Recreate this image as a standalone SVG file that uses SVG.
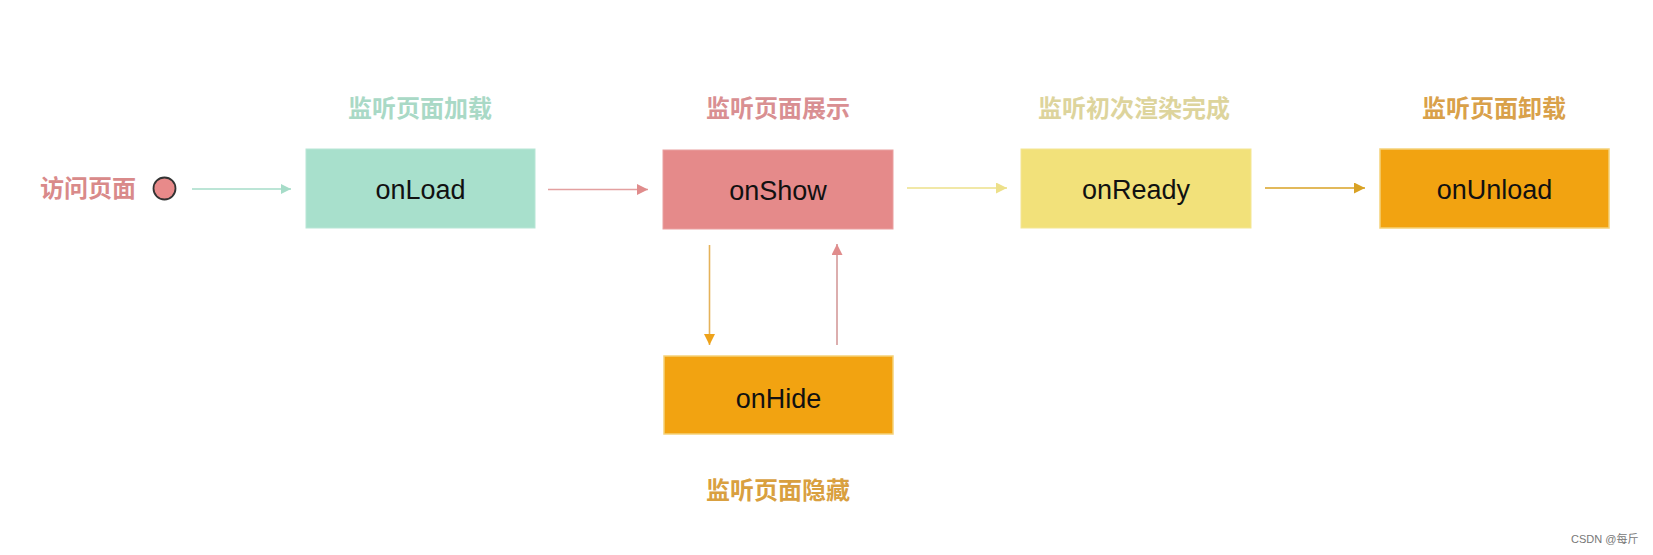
<svg xmlns="http://www.w3.org/2000/svg" width="1653" height="555" viewBox="0 0 1653 555">
<defs>
<style>
.lbl{font-family:"Noto Sans CJK SC","Liberation Sans",sans-serif;font-size:24px;font-weight:bold;text-anchor:middle;}
.box{font-family:"Liberation Sans",Arial,sans-serif;font-size:27px;fill:#111;text-anchor:middle;}
.wm{font-family:"Liberation Sans","Noto Sans CJK SC",sans-serif;font-size:11px;fill:#777;}
</style>
<marker id="aTeal" viewBox="0 0 10 10" refX="10" refY="5" markerWidth="10" markerHeight="10" markerUnits="userSpaceOnUse" orient="auto"><path d="M0,0L10,5L0,10Z" fill="#a6dcc8"/></marker>
<marker id="aPink" viewBox="0 0 10 10" refX="10" refY="5" markerWidth="11" markerHeight="11" markerUnits="userSpaceOnUse" orient="auto"><path d="M0,0L10,5L0,10Z" fill="#e08c8c"/></marker>
<marker id="aYel" viewBox="0 0 10 10" refX="10" refY="5" markerWidth="11" markerHeight="11" markerUnits="userSpaceOnUse" orient="auto"><path d="M0,0L10,5L0,10Z" fill="#ede08a"/></marker>
<marker id="aGold" viewBox="0 0 10 10" refX="10" refY="5" markerWidth="11" markerHeight="11" markerUnits="userSpaceOnUse" orient="auto"><path d="M0,0L10,5L0,10Z" fill="#d9a225"/></marker>
<marker id="aOr" viewBox="0 0 10 10" refX="10" refY="5" markerWidth="11" markerHeight="11" markerUnits="userSpaceOnUse" orient="auto"><path d="M0,0L10,5L0,10Z" fill="#eea21a"/></marker>
</defs>
<rect width="1653" height="555" fill="#fff"/>
<g id="start">
<text class="lbl" x="88" y="197" fill="#d98a8a">访问页面</text>
<circle cx="164.5" cy="188.5" r="11" fill="#e88a8a" stroke="#333" stroke-width="1.8"/>
</g>
<g id="connectors" fill="none" stroke-width="1.6">
<line x1="192" y1="189" x2="291" y2="189" stroke="#a6dcc8" marker-end="url(#aTeal)"/>
<line x1="548" y1="189.5" x2="648" y2="189.5" stroke="#e3a0a0" marker-end="url(#aPink)"/>
<line x1="907" y1="188" x2="1007" y2="188" stroke="#ede08a" marker-end="url(#aYel)"/>
<line x1="1265" y1="188" x2="1365" y2="188" stroke="#d9a225" marker-end="url(#aGold)"/>
<line x1="709.5" y1="245" x2="709.5" y2="345" stroke="#e5b25a" marker-end="url(#aOr)"/>
<line x1="837" y1="345" x2="837" y2="244" stroke="#d49a9a" marker-end="url(#aPink)"/>
</g>
<g id="onLoad">
<text class="lbl" x="420" y="117" fill="#a9d9c6">监听页面加载</text>
<rect x="306" y="149" width="229" height="79" fill="#a8e0cc" stroke="#b8e6d6" stroke-width="1"/>
<text class="box" x="420.5" y="199">onLoad</text>
</g>
<g id="onShow">
<text class="lbl" x="778" y="117" fill="#d98f92">监听页面展示</text>
<rect x="663" y="150" width="230" height="79" fill="#e58a8a" stroke="#eaa0a0" stroke-width="1"/>
<text class="box" x="778" y="200">onShow</text>
</g>
<g id="onReady">
<text class="lbl" x="1134" y="117" fill="#ddd49c">监听初次渲染完成</text>
<rect x="1021" y="149" width="230" height="79" fill="#f2e17a" stroke="#f4e694" stroke-width="1"/>
<text class="box" x="1136" y="199">onReady</text>
</g>
<g id="onUnload">
<text class="lbl" x="1494" y="117" fill="#d9a14a">监听页面卸载</text>
<rect x="1380" y="149" width="229" height="79" fill="#f2a311" stroke="#f5d27a" stroke-width="1.5"/>
<text class="box" x="1494.5" y="199">onUnload</text>
</g>
<g id="onHide">
<rect x="664" y="356" width="229" height="78" fill="#f2a311" stroke="#f5d27a" stroke-width="1.5"/>
<text class="box" x="778.5" y="408">onHide</text>
<text class="lbl" x="778" y="499" fill="#d9a040">监听页面隐藏</text>
</g>
<text class="wm" x="1571" y="543">CSDN @每斤</text>
</svg>
